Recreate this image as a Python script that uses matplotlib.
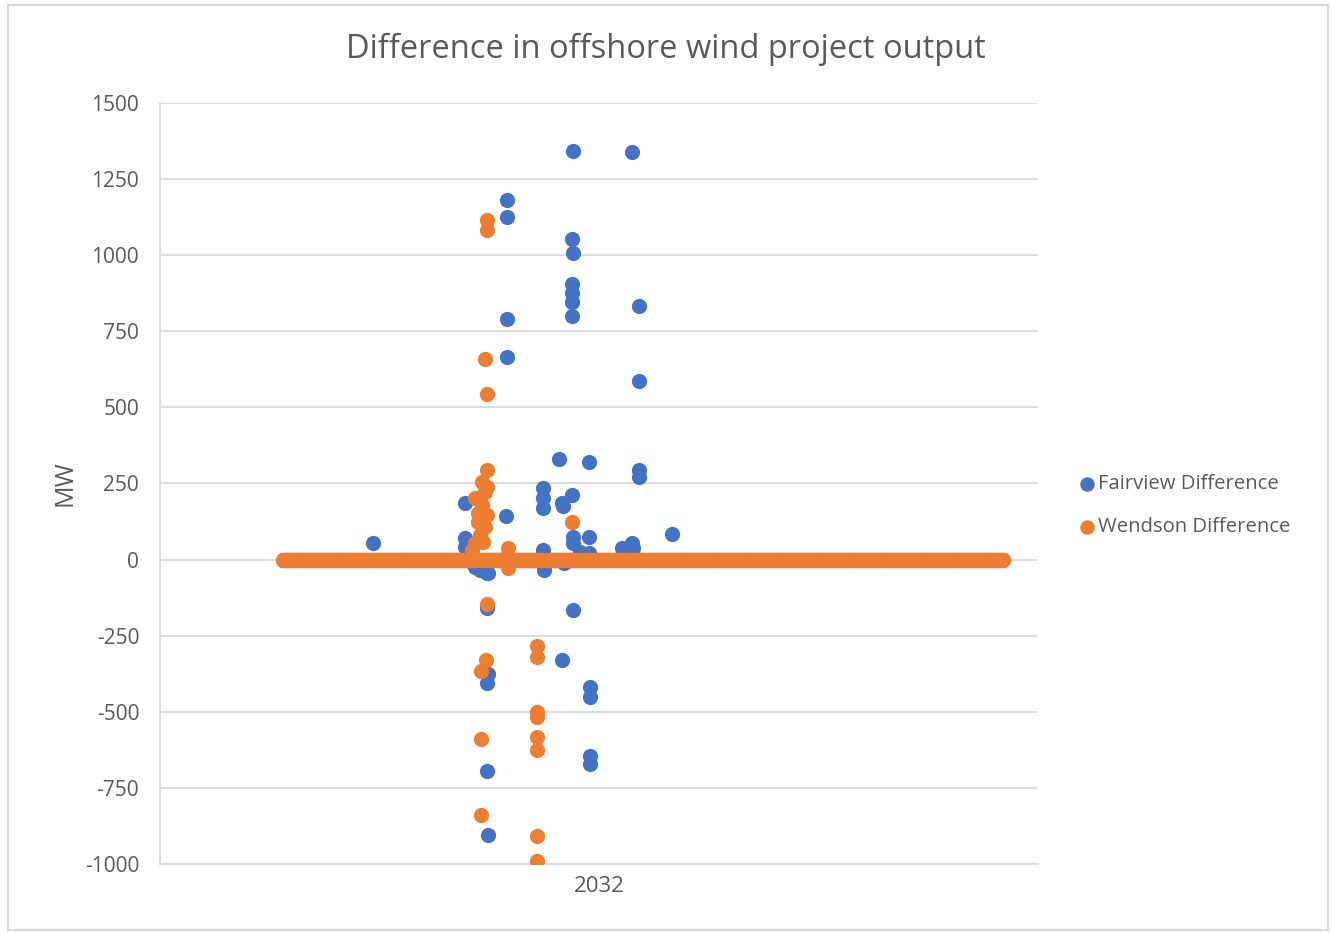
import matplotlib.pyplot as plt
import matplotlib.patches as patches
import numpy as np

# sample positions along the 2032 timeline (axis units 0-100), all zero unless listed below
timeline = np.linspace(14.0, 96.0, 700)

fairview_x = [24.3, 34.7, 34.7, 34.7, 35.9, 37.2, 37.2, 39.4, 43.6, 43.6, 43.6, 43.6, 43.7,
              45.4, 45.8, 45.9, 46.9, 46.0, 47.0, 48.9, 47.0, 47.0, 48.9, 47.8, 48.9,
              52.6, 53.8, 53.9, 54.6, 54.6, 58.3, 36.4, 37.4,
              47.0, 53.8, 39.5, 39.5, 46.9, 47.0, 46.9, 46.9, 46.9, 46.9, 54.6, 39.5, 39.5, 54.6,
              45.8, 37.4, 37.2, 49.0, 49.0, 49.0, 49.0, 37.2, 37.4]
fairview_y = [55, 186, 71, 41, -24, -44, -159, 144, 235, 202, 170, 31, -34,
              330, 185, 176, 212, -12, -165, 321, 74, 55, 74, 25, 22,
              38, 55, 38, 294, 272, 84, -34, -44,
              1342, 1339, 1181, 1125, 1053, 1007, 905, 875, 846, 800, 832, 790, 666, 587,
              -330, -376, -406, -419, -452, -645, -670, -693, -904]

wendson_x = [37.2, 37.2, 37.0, 37.2,
             37.2, 36.7, 37.2, 37.0, 35.9, 36.7, 36.2, 37.2, 36.2, 37.0, 36.4, 36.8, 35.9, 35.5,
             39.6, 39.6, 39.6, 46.9,
             37.2, 42.9, 42.9, 37.1, 36.6, 42.9, 42.9, 42.9, 42.9, 36.6, 36.6, 42.9, 42.9]
wendson_y = [1115, 1083, 659, 544,
             294, 255, 238, 222, 202, 180, 153, 147, 123, 107, 81, 58, 55, 31,
             38, -28, 10, 123,
             -146, -283, -320, -330, -366, -500, -516, -582, -625, -590, -838, -907, -990]

yticks = [-1000, -750, -500, -250, 0, 250, 500, 750, 1000, 1250, 1500]

blue = '#4472C4'
orange = '#ED7D31'
grey = '#595959'
plt.rcParams['font.family'] = ['Open Sans', 'DejaVu Sans']
plt.rcParams['axes.unicode_minus'] = False

fig = plt.figure(figsize=(13.32, 9.33), dpi=100)
fig.patches.append(patches.Rectangle((0.006, 0.003), 0.991, 0.992, transform=fig.transFigure,
                                     fill=False, edgecolor='#D9D9D9', linewidth=1.5))
ax = fig.add_axes([0.1201, 0.074, 0.6592, 0.8156])

size = 120
ax.scatter(timeline, np.zeros_like(timeline), s=size, color=blue, linewidths=0, zorder=3)
ax.scatter(fairview_x, fairview_y, s=size, color=blue, linewidths=0, zorder=3,
           label='Fairview Difference')
ax.scatter(timeline, np.zeros_like(timeline), s=size, color=orange, linewidths=0, zorder=4)
ax.scatter(wendson_x, wendson_y, s=size, color=orange, linewidths=0, zorder=4,
           label='Wendson Difference')

ax.set_xlim(0, 100)
ax.set_ylim(-1000, 1500)
ax.set_yticks(yticks)
ax.set_xticks([50])
ax.set_xticklabels(['2032'])
ax.grid(axis='y', color='#D9D9D9', linewidth=1.3)
ax.set_axisbelow(True)
for side in ['top', 'right']:
    ax.spines[side].set_visible(False)
for side in ['left', 'bottom']:
    ax.spines[side].set_color('#D9D9D9')
    ax.spines[side].set_linewidth(1.3)
ax.tick_params(length=0, labelsize=15, labelcolor=grey, pad=15)
ax.tick_params(axis='x', labelsize=16, pad=9)
ax.set_ylabel('MW', fontsize=18, color=grey, labelpad=5)

fig.text(0.5, 0.947, 'Difference in offshore wind project output', fontsize=23.5, color=grey,
         ha='center', va='center')

ax.legend(loc='center left', bbox_to_anchor=(1.012, 0.471), frameon=False, fontsize=14.6,
          labelcolor=grey, handletextpad=-0.45, labelspacing=1.15, markerscale=0.95,
          scatterpoints=1)

plt.savefig('out.png')
